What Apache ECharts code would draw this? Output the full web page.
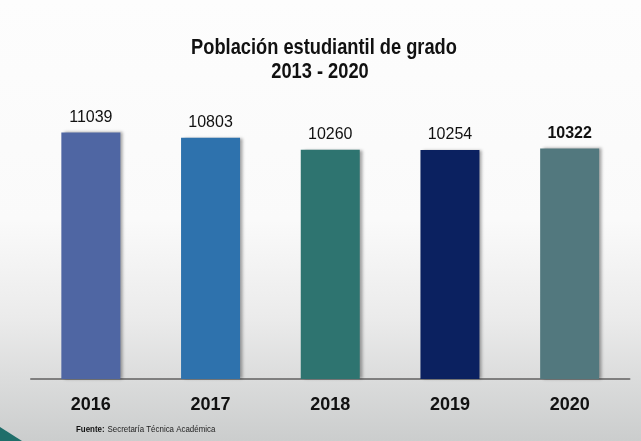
<!DOCTYPE html>
<html>

<head>
    <meta charset="utf-8">
    <title>Población estudiantil de grado</title>
    <script src="https://cdn.jsdelivr.net/npm/echarts@6/dist/echarts.min.js"></script>
    <style>
        html, body { margin: 0; padding: 0; }
    </style>
</head>

<body>
    <div id="main" style="width: 641px;height:441px;"></div>
    <script type="text/javascript">
        // datos
        var years = ['2016', '2017', '2018', '2019', '2020'];
        var students = [11039, 10803, 10260, 10254, 10322];
        var barColors = ['#4f66a3', '#2e72ad', '#2e7470', '#0b2160', '#52787e'];
        var titleLines = ['Población estudiantil de grado', '2013 - 2020'];

        var font = '"Liberation Sans", Arial, sans-serif';

        var seriesData = [];
        for (var i = 0; i < students.length; i++) {
            var item = {
                value: students[i],
                itemStyle: { color: barColors[i] }
            };
            // el ultimo valor va en negrita
            if (i === students.length - 1) {
                item.label = { fontWeight: 'bold' };
            }
            seriesData.push(item);
        }

        // texto angosto (la fuente original es tipo Arial Narrow)
        function narrowText(txt, x, y, size, weight) {
            return {
                type: 'text',
                x: x,
                y: y,
                scaleX: 0.83,
                style: {
                    text: txt,
                    fill: '#111',
                    font: weight + ' ' + size + 'px ' + font,
                    textAlign: 'center',
                    textVerticalAlign: 'middle',
                    align: 'center',
                    verticalAlign: 'middle'
                }
            };
        }

        var myChart = echarts.init(document.getElementById('main'));
        var option = {
            backgroundColor: {
                type: 'linear', x: 0, y: 0, x2: 0, y2: 1,
                colorStops: [
                    { offset: 0, color: '#fdfdfd' },
                    { offset: 0.5, color: '#fafafa' },
                    { offset: 0.72, color: '#ebebeb' },
                    { offset: 1, color: '#cbcdcd' }
                ]
            },
            grid: {
                left: 31,
                right: 11.5,
                top: 111,
                bottom: 62
            },
            xAxis: {
                type: 'category',
                data: years,
                axisLine: { lineStyle: { color: '#7f7f7f', width: 2 } },
                axisTick: { show: false },
                axisLabel: {
                    margin: 17,
                    fontFamily: font,
                    fontSize: 18,
                    fontWeight: 'bold',
                    color: '#111'
                }
            },
            yAxis: {
                type: 'value',
                min: 0,
                max: 12000,
                show: false,
                splitLine: { show: false }
            },
            series: [{
                type: 'bar',
                barWidth: 59,
                data: seriesData,
                itemStyle: {
                    shadowColor: 'rgba(0,0,0,0.35)',
                    shadowBlur: 3,
                    shadowOffsetX: 3
                },
                label: {
                    show: true,
                    position: 'top',
                    distance: 7,
                    fontFamily: font,
                    fontSize: 16,
                    color: '#111'
                }
            }],
            graphic: [
                narrowText(titleLines[0], 324, 47.5, 22, 'bold'),
                narrowText(titleLines[1], 320, 72, 22, 'bold'),
                {
                    type: 'polygon',
                    shape: { points: [[0, 427], [22, 441], [0, 441]] },
                    style: { fill: '#1f6e6a' }
                },
                {
                    type: 'text',
                    x: 76,
                    y: 430,
                    scaleX: 0.88,
                    style: {
                        rich: {
                            b: { fontFamily: font, fontSize: 9, fontWeight: 'bold', fill: '#111' },
                            n: { fontFamily: font, fontSize: 9, fill: '#222' }
                        },
                        text: '{b|Fuente:} {n|Secretaría Técnica Académica}',
                        textVerticalAlign: 'middle',
                        verticalAlign: 'middle'
                    }
                }
            ]
        };
        myChart.setOption(option);
    </script>
</body>
</html>
